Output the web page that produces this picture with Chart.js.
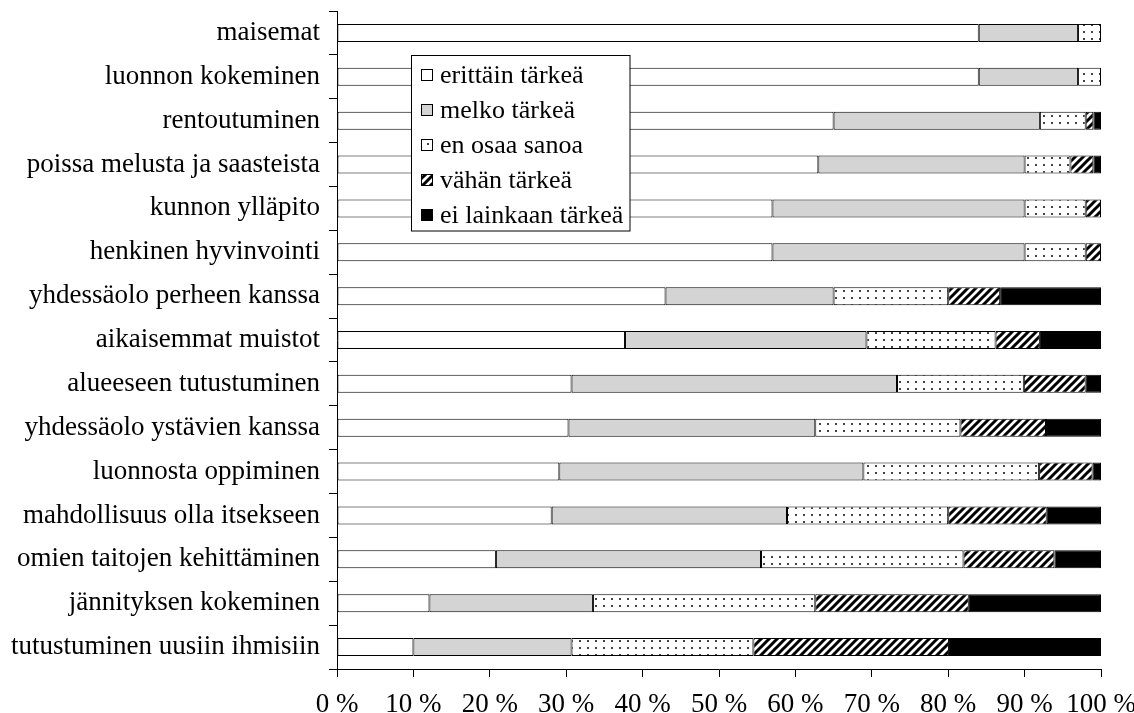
<!DOCTYPE html>
<html>
<head>
<meta charset="utf-8">
<script src="https://cdn.jsdelivr.net/npm/chart.js@4"></script>
<style>
  html, body { margin: 0; padding: 0; background: #fff; }
  #wrap { width: 1134px; height: 713px; }
</style>
</head>
<body>
<div id="wrap"><canvas id="c" width="1134" height="713"></canvas></div>
<script>
const categories = [
  "maisemat",
  "luonnon kokeminen",
  "rentoutuminen",
  "poissa melusta ja saasteista",
  "kunnon ylläpito",
  "henkinen hyvinvointi",
  "yhdessäolo perheen kanssa",
  "aikaisemmat muistot",
  "alueeseen tutustuminen",
  "yhdessäolo ystävien kanssa",
  "luonnosta oppiminen",
  "mahdollisuus olla itsekseen",
  "omien taitojen kehittäminen",
  "jännityksen kokeminen",
  "tutustuminen uusiin ihmisiin"
];
const seriesNames = ["erittäin tärkeä", "melko tärkeä", "en osaa sanoa", "vähän tärkeä", "ei lainkaan tärkeä"];
const erittainTarkea = [84, 84, 65, 63, 57, 57, 43, 37.7, 30.7, 30.3, 29.1, 28.1, 20.8, 12.1, 10.0];
const melkoTarkea    = [13, 13, 27, 27, 33, 33, 22, 31.6, 42.6, 32.3, 39.8, 30.8, 34.7, 21.4, 20.7];
const enOsaaSanoa    = [3, 3, 6, 6, 8, 8, 15, 16.9, 16.6, 19.0, 23.0, 21.1, 26.5, 29.1, 23.8];
const vahanTarkea    = [0, 0, 1, 3, 2, 2, 6.8, 5.8, 8.1, 11.2, 7.0, 12.9, 11.9, 20.1, 25.6];
const eiLainkaan     = [0, 0, 1, 1, 0, 0, 13.2, 8.0, 2.0, 7.2, 1.1, 7.1, 6.1, 17.3, 19.9];
const xTicks = [0, 10, 20, 30, 40, 50, 60, 70, 80, 90, 100];

const FONT = "'Liberation Serif', 'Times New Roman', serif";
const FSIZE = 27;
const LEGEND_FSIZE = 26;

function makeDots() {
  const t = document.createElement('canvas');
  t.width = 8; t.height = 7;
  const g = t.getContext('2d');
  g.fillStyle = '#fff'; g.fillRect(0, 0, 8, 7);
  g.fillStyle = '#444'; g.fillRect(3, 3, 2, 2);
  return g.createPattern(t, 'repeat');
}
function makeHatch() {
  const s = 8;
  const t = document.createElement('canvas');
  t.width = s; t.height = s;
  const g = t.getContext('2d');
  g.fillStyle = '#fff'; g.fillRect(0, 0, s, s);
  g.strokeStyle = '#000'; g.lineWidth = 3;
  g.beginPath();
  g.moveTo(-s, s); g.lineTo(s, -s);
  g.moveTo(0, s * 2); g.lineTo(s * 2, 0);
  g.moveTo(-s, 2 * s); g.lineTo(2 * s, -s);
  g.stroke();
  return g.createPattern(t, 'repeat');
}

const fills = ['#ffffff', '#d4d4d4', makeDots(), makeHatch(), '#000000'];
const values = [erittainTarkea, melkoTarkea, enOsaaSanoa, vahanTarkea, eiLainkaan];

const datasets = seriesNames.map((name, i) => ({
  label: name,
  data: values[i],
  backgroundColor: fills[i],
  borderColor: '#000',
  borderWidth: 1,
  borderSkipped: false,
  barPercentage: 0.41,
  categoryPercentage: 1.0
}));

const boxLegend = {
  id: 'boxLegend',
  afterDatasetsDraw(chart) {
    const ctx = chart.ctx;
    const x0 = 411.5, y0 = 55.5, w = 218.5, h = 175.5;
    ctx.save();
    ctx.fillStyle = '#fff';
    ctx.fillRect(x0, y0, w, h);
    ctx.strokeStyle = '#000';
    ctx.lineWidth = 1;
    ctx.strokeRect(x0, y0, w, h);
    ctx.font = LEGEND_FSIZE + 'px ' + FONT;
    ctx.textBaseline = 'middle';
    ctx.textAlign = 'left';
    chart.data.datasets.forEach((ds, i) => {
      const cy = 75 + i * 35;
      ctx.fillStyle = ds.backgroundColor;
      ctx.fillRect(421, cy - 6, 12, 12);
      ctx.strokeStyle = '#000';
      ctx.strokeRect(421.5, cy - 5.5, 11, 11);
      ctx.fillStyle = '#000';
      ctx.fillText(ds.label, 440, cy + 1);
    });
    ctx.restore();
  }
};

Chart.defaults.font.family = FONT;
Chart.defaults.font.size = FSIZE;
Chart.defaults.color = '#000';

new Chart(document.getElementById('c'), {
  type: 'bar',
  data: { labels: categories, datasets },
  options: {
    indexAxis: 'y',
    responsive: false,
    animation: false,
    layout: { padding: { left: 0, top: 11, right: 33, bottom: 0 } },
    plugins: { legend: { display: false }, tooltip: { enabled: false } },
    scales: {
      x: {
        stacked: true,
        min: 0, max: 100,
        afterBuildTicks(scale) { scale.ticks = xTicks.map(v => ({ value: v })); },
        afterFit(scale) { scale.height = 44; scale.paddingLeft = 0; scale.paddingRight = 0; },
        ticks: { callback: v => v + ' %', padding: 12, maxRotation: 0, autoSkip: false },
        grid: { drawOnChartArea: false, drawTicks: true, tickLength: 8, color: '#000' },
        border: { color: '#000', width: 1 }
      },
      y: {
        stacked: true,
        afterFit(scale) { scale.width = 337; scale.paddingTop = 0; scale.paddingBottom = 0; },
        ticks: { padding: 9, autoSkip: false },
        grid: { offset: true, drawOnChartArea: false, drawTicks: true, tickLength: 8, color: '#000' },
        border: { color: '#000', width: 1 }
      }
    }
  },
  plugins: [boxLegend]
});
</script>
</body>
</html>
